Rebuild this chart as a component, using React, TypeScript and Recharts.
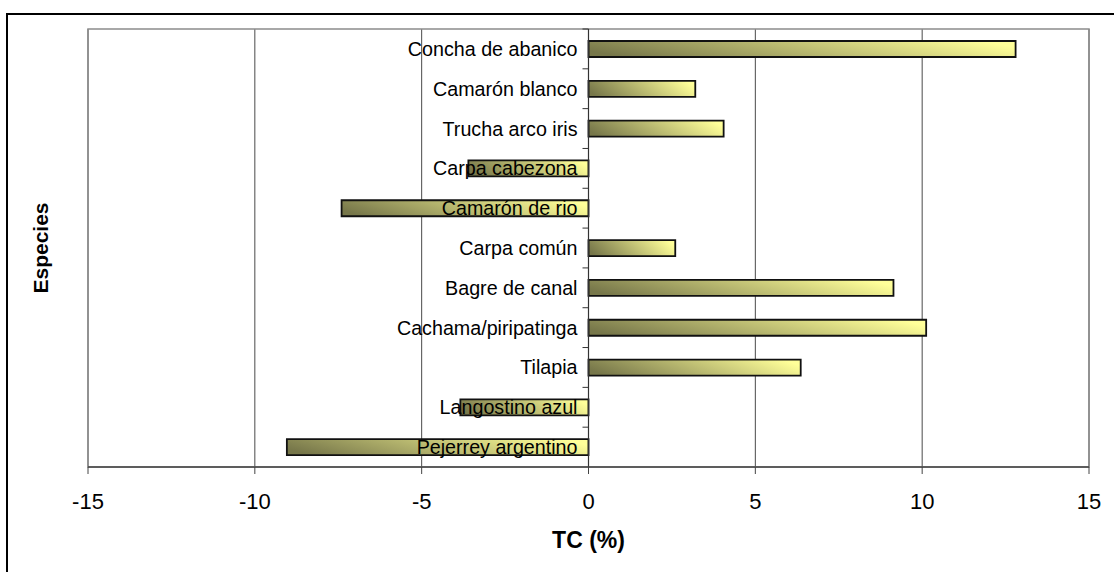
import {
  BarChart,
  Bar,
  XAxis,
  YAxis,
  CartesianGrid,
  ReferenceLine,
  ReferenceArea,
  LabelList,
  Label,
} from 'recharts';

const species = [
  'Concha de abanico',
  'Camarón blanco',
  'Trucha arco iris',
  'Carpa cabezona',
  'Camarón de rio',
  'Carpa común',
  'Bagre de canal',
  'Cachama/piripatinga',
  'Tilapia',
  'Langostino azul',
  'Pejerrey argentino',
];
const tcValues = [12.8, 3.2, 4.05, -3.6, -7.4, 2.6, 9.14, 10.12, 6.36, -3.84, -9.04];
const xTicks = [-15, -10, -5, 0, 5, 10, 15];

const data = species.map((name, i) => ({ name, value: tcValues[i] }));

const W = 1114;
const H = 572;
const M = { top: 29, right: 25, left: 8, bottom: 15 };
const Y_AXIS_W = 80;
const X_AXIS_H = 90;
const PLOT_LEFT = M.left + Y_AXIS_W;
const PLOT_W = W - PLOT_LEFT - M.right;
const PLOT_H = H - M.top - M.bottom - X_AXIS_H;
const ZERO_X = PLOT_LEFT + PLOT_W / 2;
const BAND = PLOT_H / species.length;
const FONT = '"Liberation Sans", Arial, sans-serif';

function CategoryTick(props: any) {
  const { y, payload } = props;
  const half = payload && payload.offset ? payload.offset : BAND / 2;
  return (
    <line x1={ZERO_X - 6} x2={ZERO_X} y1={y - half} y2={y - half} stroke="#333" strokeWidth={1} />
  );
}

function NameLabel(props: any) {
  const { y, height, value } = props;
  return (
    <text
      x={ZERO_X - 11}
      y={y + height / 2}
      dy="0.35em"
      textAnchor="end"
      fontSize={19.7}
      fontFamily={FONT}
      fill="#000"
    >
      {value}
    </text>
  );
}

export default function App() {
  return (
    <div style={{ position: 'absolute', left: 0, top: 0, width: W, height: H, overflow: 'hidden', background: '#fff' }}>
      <div
        style={{
          position: 'absolute',
          left: 6,
          top: 13,
          width: W + 20,
          height: H + 20,
          border: '2px solid #000',
        }}
      />
      <div style={{ position: 'absolute', left: 0, top: 0 }}>
        <BarChart width={W} height={H} data={data} layout="vertical" margin={M}>
          <defs>
            <linearGradient id="olive" x1="0" y1="0.6" x2="1" y2="0.4">
              <stop offset="0%" stopColor="#77774a" />
              <stop offset="100%" stopColor="#ffff99" />
            </linearGradient>
          </defs>
          <CartesianGrid horizontal={false} stroke="#4a4a4a" />
          <ReferenceArea x1={-15} x2={15} fill="none" stroke="#8c8c8c" strokeWidth={1.5} />
          <XAxis
            type="number"
            domain={[-15, 15]}
            ticks={xTicks}
            height={X_AXIS_H}
            axisLine={{ stroke: '#444', strokeWidth: 1.5 }}
            tickLine={{ stroke: '#444' }}
            tickSize={7}
            tickMargin={19}
            tick={{ fontSize: 22, fill: '#000', fontFamily: FONT }}
          >
            <Label
              value="TC (%)"
              position="insideBottom"
              offset={9}
              style={{ fontSize: 23, fontWeight: 'bold', fill: '#000', fontFamily: FONT }}
            />
          </XAxis>
          <YAxis
            type="category"
            dataKey="name"
            width={Y_AXIS_W}
            axisLine={false}
            tickLine={false}
            tick={<CategoryTick />}
          >
            <Label
              value="Especies"
              position="center"
              angle={-90}
              dx={-7}
              style={{ fontSize: 21, fontWeight: 'bold', fill: '#000', fontFamily: FONT, textAnchor: 'middle' }}
            />
          </YAxis>
          <ReferenceLine x={0} stroke="#333" strokeWidth={1.2} />
          <Bar
            dataKey="value"
            fill="url(#olive)"
            stroke="#111"
            strokeWidth={1.8}
            barSize={16}
            isAnimationActive={false}
          >
            <LabelList dataKey="name" content={<NameLabel />} />
          </Bar>
        </BarChart>
      </div>
    </div>
  );
}
